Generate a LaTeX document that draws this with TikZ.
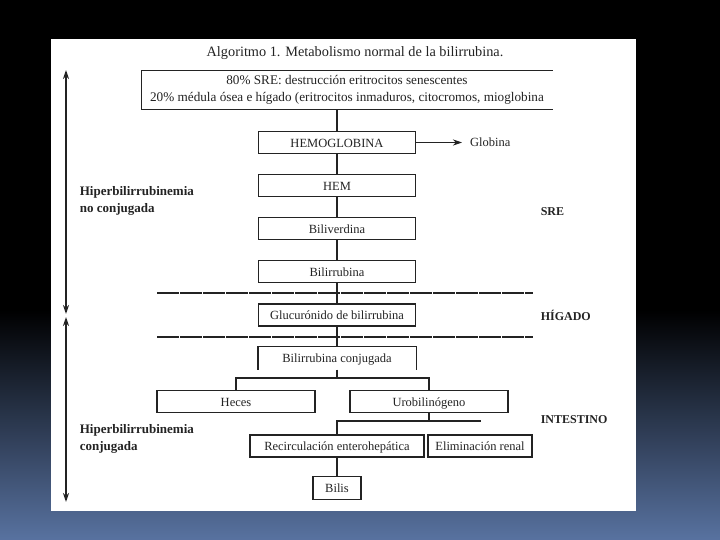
\documentclass[tikz,border=0pt]{standalone}
\usepackage{fontspec}
\setmainfont{Liberation Serif}
\usepackage{tikz}
\usetikzlibrary{arrows.meta,positioning}

\definecolor{ink}{RGB}{35,35,35}
\definecolor{slideblue}{RGB}{88,114,160}

\begin{document}
\begin{tikzpicture}[x=1pt,y=-1pt,>={Stealth[length=9pt,width=6pt]},node distance=43.1pt,
                    line width=1.6pt,color=ink]
  \tikzstyle{box}=[draw,line width=1.2pt,minimum width=157pt,minimum height=22pt,
                   inner sep=0pt,text height=11.5pt,text depth=2pt,
                   font=\fontsize{12.5}{14}\selectfont]
  \tikzstyle{openbox}=[box,draw=none]
  \tikzstyle{lado}=[anchor=west,align=left,inner sep=2pt,font=\bfseries\fontsize{13}{17}\selectfont]
  \tikzstyle{zona}=[anchor=west,inner sep=2pt,font=\bfseries\fontsize{12}{14}\selectfont]
  \tikzstyle{separador}=[line width=1.4pt,dash pattern=on 22pt off 1pt]

  \fill[black] (0,0) rectangle (720,540);
  \shade[top color=black,bottom color=slideblue] (0,310) rectangle (720,540);
  \fill[white] (51,39) rectangle (636,511);

  \node (titulo) at (355,53) {\fontsize{14.3}{16}\selectfont Algoritmo 1. Metabolismo normal de la bilirrubina.};

  \node[align=center,minimum width=410pt,minimum height=38pt,inner sep=0pt,
        font=\fontsize{13.2}{17}\selectfont] (origen) at (347,90)
        {80\% SRE: destrucción eritrocitos senescentes\\20\% médula ósea e hígado (eritrocitos inmaduros, citocromos, mioglobina};
  \draw[line width=1.2pt] (origen.north east) -- (origen.north west)
        -- (origen.south west) -- (origen.south east);

  \node[box]     (HB)  at (337,142.5)  {HEMOGLOBINA};
  \node[box]     (HEM) [below of=HB]  {HEM};
  \node[box]     (BV)  [below of=HEM] {Biliverdina};
  \node[box]     (BR)  [below of=BV]  {Bilirrubina};
  \node[box]     (GB)  [below of=BR]  {Glucurónido de bilirrubina};
  \node[openbox] (BC)  [below of=GB]  {Bilirrubina conjugada};
  \draw[line width=1.2pt] (BC.south west) -- (BC.north west)
        -- (BC.north east) -- (BC.south east);

  \node[box,minimum width=158pt] (HC) at (236,401.5) {Heces};
  \node[box,minimum width=158pt] (UB) at (429,401.5) {Urobilinógeno};
  \node[box,minimum width=174pt] (RE) at (337,446)   {Recirculación enterohepática};
  \node[box,minimum width=104pt] (ER) at (480,446)   {Eliminación renal};
  \node[box,minimum width=48pt,minimum height=23pt] (BI) at (337,488) {Bilis};

  \node[anchor=west,font=\fontsize{12.5}{14}\selectfont] (GL) at (466,142.5) {Globina};

  \node[lado] (hnc) at (77,201) {Hiperbilirrubinemia\\no conjugada};
  \node[lado] (hc)  at (77,439) {Hiperbilirrubinemia\\conjugada};
  \node[zona] (sre) at (538,212) {SRE};
  \node[zona] (hig) at (538,315) {HÍGADO};
  \node[zona] (int) at (538,420) {INTESTINO};

  \coordinate (rama)    at (337,378);
  \coordinate (retorno) at (337,421);
  \coordinate (fin)     at (481,421);
  \coordinate (a1) at (66,70);
  \coordinate (a2) at (66,314);
  \coordinate (a3) at (66,317);
  \coordinate (a4) at (66,502);

  \path (HB) edge (HEM)
        (HEM) edge (BV)
        (BV) edge (BR)
        (BR) edge (GB)
        (GB) edge (BC.north);
  \draw (origen.south -| HB.north) -- (HB.north);
  \draw[->,line width=0.9pt,shorten >=4pt] (HB) -- (GL);
  \draw (BC.south) -- (rama);
  \draw (HC.north) |- (rama) -| (UB.north);
  \draw (UB.south) -- (UB.south |- fin);
  \draw (RE.north) -- (retorno) -- (fin);
  \draw (RE) -- (BI);

  \draw[separador] (157,293) -- (533,293);
  \draw[separador] (157,337) -- (533,337);

  \draw[<->] (a1) -- (a2);
  \draw[<->] (a3) -- (a4);
\end{tikzpicture}
\end{document}
